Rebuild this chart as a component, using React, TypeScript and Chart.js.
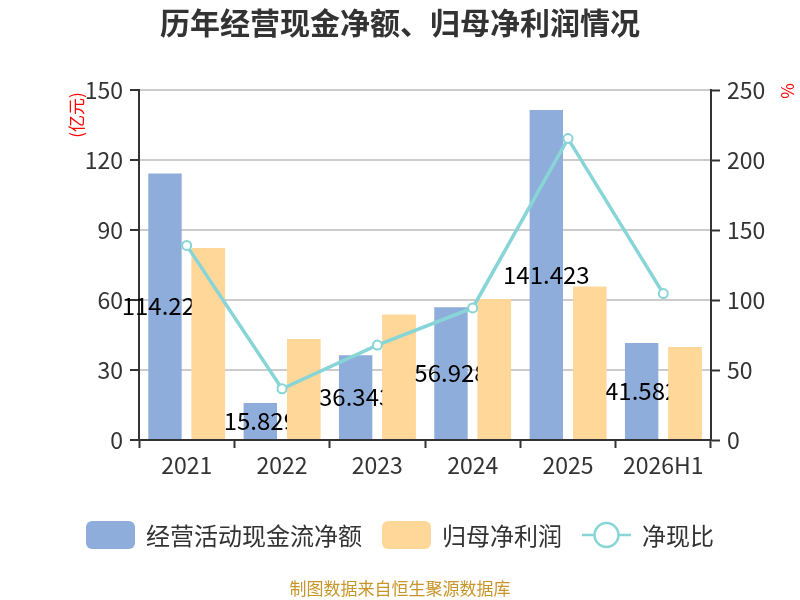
import { useEffect, useRef } from 'react'
import { Chart, registerables } from 'chart.js'

Chart.register(...registerables)

const FONT = '"Noto Sans CJK SC", "Open Sans", sans-serif'

const categories = ['2021', '2022', '2023', '2024', '2025', '2026H1']
const cashFlow = [114.223, 15.829, 36.343, 56.928, 141.423, 41.582]
const netProfit = [82.3, 43.3, 53.7, 60.4, 65.7, 39.9]
const cashRatio = [139.0, 36.6, 67.8, 94.3, 215.3, 104.6]
const leftTicks = [0, 30, 60, 90, 120, 150]
const rightTicks = [0, 50, 100, 150, 200, 250]

const BLUE = '#8eaddb'
const ORANGE = '#ffd899'
const TEAL = '#88d5d7'
const TEXT = '#333333'

// values written in the middle of the blue bars, then the orange bars are painted over them again
const barLabels = {
  id: 'barLabels',
  afterDatasetDraw(chart: any, args: any) {
    if (args.index !== 0) return
    const ctx = chart.ctx
    ctx.save()
    ctx.font = `24px ${FONT}`
    ctx.fillStyle = '#000'
    ctx.textAlign = 'center'
    ctx.textBaseline = 'middle'
    args.meta.data.forEach((bar: any, i: number) => {
      const { x, y, base } = bar.getProps(['x', 'y', 'base'], true)
      ctx.fillText(String(cashFlow[i]), x, (y + base) / 2)
    })
    ctx.restore()

    const area = chart.chartArea
    ctx.save()
    ctx.beginPath()
    ctx.rect(area.left, area.top, area.right - area.left, area.bottom - area.top)
    ctx.clip()
    chart.getDatasetMeta(1).controller.draw()
    ctx.restore()
  }
}

const decorations = {
  id: 'decorations',
  afterDraw(chart: any) {
    const ctx = chart.ctx
    ctx.save()

    ctx.fillStyle = TEXT
    ctx.font = `bold 30px ${FONT}`
    ctx.textAlign = 'center'
    ctx.textBaseline = 'middle'
    ctx.fillText('历年经营现金净额、归母净利润情况', 400, 23)

    // axis units
    ctx.fillStyle = '#ff0000'
    ctx.font = `17px ${FONT}`
    ctx.save()
    ctx.translate(77, 115)
    ctx.rotate(-Math.PI / 2)
    ctx.fillText('(亿元)', 0, 0)
    ctx.restore()
    ctx.save()
    ctx.translate(788, 91)
    ctx.rotate(-Math.PI / 2)
    ctx.fillText('%', 0, 0)
    ctx.restore()

    // legend
    const items = [
      { text: '经营活动现金流净额', kind: 'box', color: BLUE },
      { text: '归母净利润', kind: 'box', color: ORANGE },
      { text: '净现比', kind: 'line', color: TEAL }
    ]
    ctx.font = `24px ${FONT}`
    const symW = 49, symGap = 11, itemGap = 20
    const widths = items.map(it => symW + symGap + ctx.measureText(it.text).width)
    const total = widths.reduce((a, b) => a + b, 0) + itemGap * (items.length - 1)
    let x = 400 - total / 2
    const cy = 535
    items.forEach((it, i) => {
      if (it.kind === 'box') {
        ctx.fillStyle = it.color
        ctx.beginPath()
        ctx.roundRect(x, cy - 14, symW, 28, 6)
        ctx.fill()
      } else {
        ctx.strokeStyle = it.color
        ctx.lineWidth = 2.5
        ctx.beginPath()
        ctx.moveTo(x, cy)
        ctx.lineTo(x + symW, cy)
        ctx.stroke()
        ctx.fillStyle = '#fff'
        ctx.beginPath()
        ctx.arc(x + symW / 2, cy, 12, 0, Math.PI * 2)
        ctx.fill()
        ctx.stroke()
      }
      ctx.fillStyle = TEXT
      ctx.textAlign = 'left'
      ctx.fillText(it.text, x + symW + symGap, cy + 1)
      x += widths[i] + itemGap
    })

    ctx.fillStyle = '#c8952a'
    ctx.font = `17px ${FONT}`
    ctx.textAlign = 'center'
    ctx.fillText('制图数据来自恒生聚源数据库', 400, 589)

    ctx.restore()
  }
}

export default function App() {
  const canvasRef = useRef<HTMLCanvasElement>(null)
  const chartRef = useRef<Chart | null>(null)

  useEffect(() => {
    if (!canvasRef.current) return
    chartRef.current?.destroy()

    chartRef.current = new Chart(canvasRef.current, {
      type: 'bar',
      data: {
        labels: categories,
        datasets: [
          {
            type: 'bar',
            label: '经营活动现金流净额',
            data: cashFlow,
            backgroundColor: BLUE,
            yAxisID: 'y',
            order: 1,
            categoryPercentage: 0.91,
            barPercentage: 0.77
          },
          {
            type: 'bar',
            label: '归母净利润',
            data: netProfit,
            backgroundColor: ORANGE,
            yAxisID: 'y',
            order: 1,
            categoryPercentage: 0.91,
            barPercentage: 0.77
          },
          {
            type: 'line',
            label: '净现比',
            data: cashRatio,
            borderColor: TEAL,
            borderWidth: 3.5,
            pointRadius: 4.5,
            pointBorderWidth: 2,
            pointBackgroundColor: '#fff',
            pointBorderColor: TEAL,
            yAxisID: 'y1',
            order: 0,
            tension: 0
          }
        ] as any
      },
      options: {
        responsive: false,
        animation: false,
        layout: { padding: { top: 90, left: 0, right: 0, bottom: 0 } },
        plugins: {
          legend: { display: false },
          title: { display: false },
          tooltip: { enabled: false }
        },
        scales: {
          x: {
            grid: { drawOnChartArea: false, tickLength: 8, tickColor: TEXT, tickWidth: 2, offset: true },
            border: { color: TEXT, width: 2 },
            ticks: { color: TEXT, font: { size: 23, family: FONT }, padding: 3, maxRotation: 0 },
            afterFit: (s: any) => { s.height = 160 }
          },
          y: {
            position: 'left',
            min: leftTicks[0],
            max: leftTicks[leftTicks.length - 1],
            ticks: { stepSize: leftTicks[1] - leftTicks[0], color: TEXT, font: { size: 23, family: FONT }, padding: 7 },
            grid: { color: '#cccccc', lineWidth: 2, tickLength: 9, tickColor: TEXT, tickWidth: 2 },
            border: { color: TEXT, width: 2 },
            afterFit: (s: any) => { s.width = 139 }
          },
          y1: {
            position: 'right',
            min: rightTicks[0],
            max: rightTicks[rightTicks.length - 1],
            ticks: { stepSize: rightTicks[1] - rightTicks[0], color: TEXT, font: { size: 23, family: FONT }, padding: 7 },
            grid: { drawOnChartArea: false, tickLength: 9, tickColor: TEXT, tickWidth: 2 },
            border: { color: TEXT, width: 2 },
            afterFit: (s: any) => { s.width = 89 }
          }
        }
      },
      plugins: [barLabels, decorations]
    })

    return () => { chartRef.current?.destroy() }
  }, [])

  return (
    <div style={{ position: 'absolute', left: 0, top: 0, width: 800, height: 600, background: '#fff' }}>
      <canvas ref={canvasRef} width={800} height={600} />
    </div>
  )
}
